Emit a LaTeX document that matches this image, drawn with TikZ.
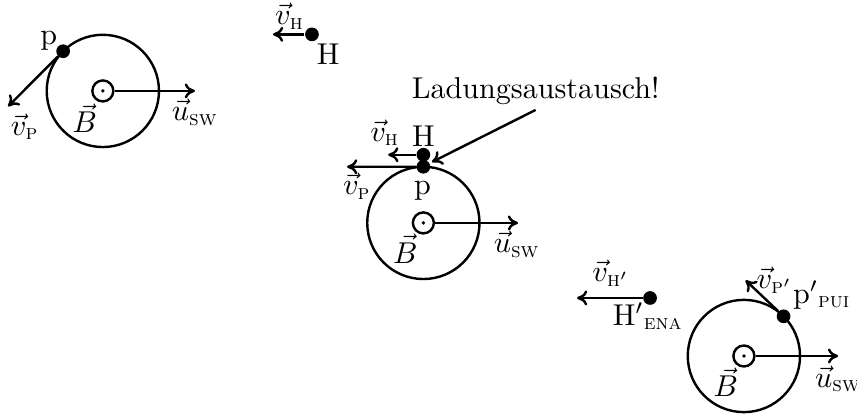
\documentclass[tikz,border=0pt]{standalone}
\usepackage{amsmath}
\usepackage{fontspec}
\usetikzlibrary{arrows.meta,positioning,calc}

\begin{document}
\begin{tikzpicture}[
  orb/.style={draw, thick, circle, minimum size=1.31cm, inner sep=0pt, outer sep=0pt},
  bz/.style={draw, thick, circle, fill=white, minimum size=0.245cm, inner sep=0pt,
             path picture={\fill[black] (path picture bounding box.center) circle (0.022);}},
  ion/.style={fill, circle, minimum size=0.16cm, inner sep=0pt},
  ar/.style={-{To[length=3.4pt,width=5pt]}, thick}]

\useasboundingbox (0,0) rectangle (10,4.831);

%% --- vor dem Stoss ---
\node[orb] (O1)   at (1.20, 3.77) {};
\node[bz]  (B1)   at (O1.center) {};
\node[ion] (P1)   at (O1.135) {};
\node[ion] (H1)   at (3.64, 4.43) {};
\coordinate (VP1) at (0.095, 3.59);
\coordinate (VH1) at (3.185, 4.43);
\coordinate (U1)  at (2.275, 3.77);
\node      (LP1)  at (0.57, 4.36) {p};
\node      (LVP1) at (0.29, 3.35) {$\vec v_{\textsc{p}}$};
\node      (LB1)  at (0.99, 3.45) {$\vec B$};
\node      (LU1)  at (2.275,3.52) {$\vec u_{\textsc{sw}}$};
\node      (LVH1) at (3.38, 4.64) {$\vec v_{\textsc{h}}$};
\node      (LH1)  at (3.83, 4.20) {H};

%% --- Stoss ---
\node[orb] (O2)   at (4.94, 2.23) {};
\node[bz]  (B2)   at (O2.center) {};
\node[ion] (P2)   at (O2.90) {};
\node[ion] (H2)   at (4.94, 3.025) {};
\coordinate (VP2) at (4.05, 2.885);
\coordinate (VH2) at (4.53, 3.025);
\coordinate (U2)  at (6.045, 2.23);
\coordinate (CT)  at (5.04, 2.94);
\node      (LVP2) at (4.165,2.66) {$\vec v_{\textsc{p}}$};
\node      (LVH2) at (4.49, 3.28) {$\vec v_{\textsc{h}}$};
\node      (LH2)  at (4.94, 3.24) {H};
\node      (LP2)  at (4.93, 2.61) {p};
\node[inner sep=1.5pt] (LAD) at (6.25, 3.77) {Ladungsaustausch!};
\node      (LU2)  at (6.03, 1.98) {$\vec u_{\textsc{sw}}$};
\node      (LB2)  at (4.73, 1.925) {$\vec B$};

%% --- nach dem Stoss ---
\node[orb] (O3)   at (8.68, 0.677) {};
\node[bz]  (B3)   at (O3.center) {};
\node[ion] (P3)   at (O3.45) {};
\node[ion] (H3)   at (7.585, 1.354) {};
\coordinate (VP3) at (8.70, 1.56);
\coordinate (VH3) at (6.733, 1.354);
\coordinate (U3)  at (9.78, 0.677);
\node      (LVH3) at (7.13, 1.645) {$\vec v_{\textsc{h}'}$};
\node      (LH3)  at (7.56, 1.14) {$\mathrm{H}'{}_{\textsc{ena}}$};
\node      (LVP3) at (9.04, 1.56) {$\vec v_{\textsc{p}'}$};
\node      (LP3)  at (9.59, 1.39) {$\mathrm{p}'{}_{\textsc{pui}}$};
\node      (LU3)  at (9.78, 0.41) {$\vec u_{\textsc{sw}}$};
\node      (LB3)  at (8.47, 0.37) {$\vec B$};

%% --- Pfeile ---
\draw[ar] (P1) -- (VP1);
\draw[ar] (H1) -- (VH1);
\draw[ar] (B1.east) -- (U1);
\draw[ar] (P2) -- (VP2);
\draw[ar] (H2) -- (VH2);
\draw[ar] (B2.east) -- (U2);
\draw[ar] (LAD.south) -- (CT);
\draw[ar] (P3) -- (VP3);
\draw[ar] (H3) -- (VH3);
\draw[ar] (B3.east) -- (U3);
\end{tikzpicture}
\end{document}
